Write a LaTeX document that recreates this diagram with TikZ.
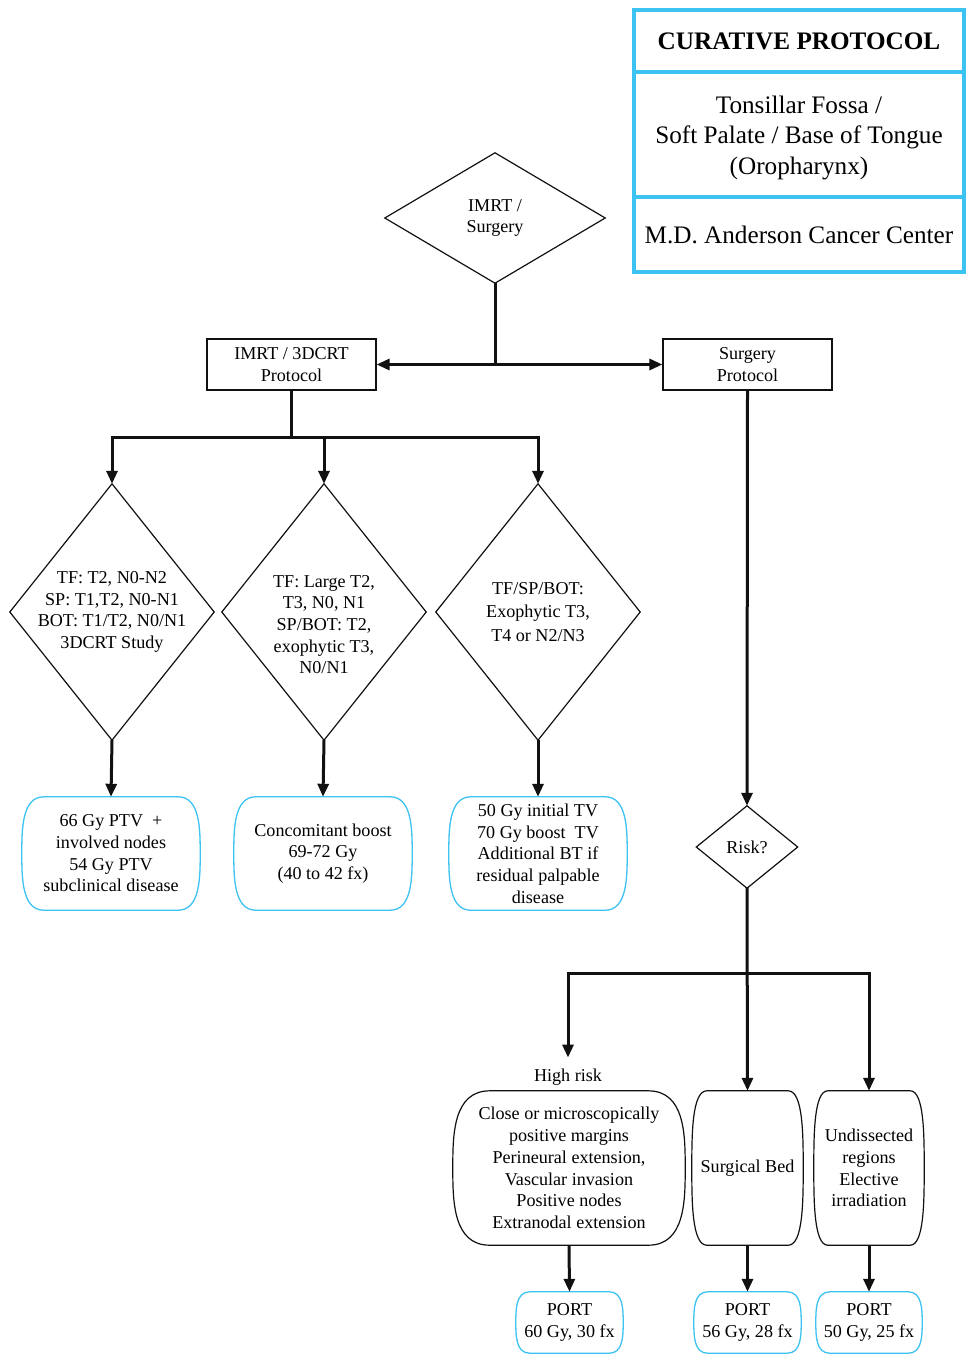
\documentclass[tikz,border=0pt]{standalone}
\usepackage{fontspec}
\setmainfont{Liberation Serif}
\usetikzlibrary{arrows.meta, positioning, calc}
\definecolor{Sky}{HTML}{3CC3F1}
\definecolor{Ink}{HTML}{111111}

\begin{document}
\begin{tikzpicture}[
  x=1pt, y=1pt,
  font=\fontsize{18.1}{21.7}\selectfont,
  stepbox/.style={
    draw=Ink,
    line width=1.2pt,
    align=center,
    inner sep=0pt,
    minimum width=169pt,
    minimum height=51pt
  },
  choice/.style={
    align=center,
    inner sep=0pt
  },
  dose/.style={
    align=center,
    inner sep=0pt
  },
  header/.style={
    draw=Sky,
    line width=4pt,
    align=center,
    inner sep=0pt,
    minimum width=330pt,
    font=\fontsize{25.2}{30.5}\selectfont
  },
  link/.style={
    line width=3pt,
    draw=Ink
  },
  arrow/.style={
    link,
    -{Triangle[length=13pt,width=11pt]}
  },
  rim/.style={draw=Ink, line width=1.2pt},
  skyrim/.style={draw=Sky, line width=1.3pt}
]

\fill[white] (0,0) rectangle (967,-1354);
\useasboundingbox (0,0) rectangle (967,-1354);

% header block
\node[header, minimum height=62pt] (title) at (799,-41)
  {\bfseries CURATIVE PROTOCOL};
\node[header, minimum height=125pt] (site) at (799,-134.5)
  {\rule{0pt}{24pt}Tonsillar Fossa /\\ Soft Palate / Base of Tongue\\(Oropharynx)};
\node[header, minimum height=75pt] (centre) at (799,-234.5)
  {M.D. Anderson Cancer Center};

% decision
\node[choice, minimum width=220pt, minimum height=130pt] (top) at (495,-218)
  {IMRT /\\Surgery};

\node[stepbox] (imrt) at (291.5,-364.5) {IMRT / 3DCRT\\Protocol};
\node[stepbox] (surg) at (747.5,-364.5) {Surgery\\Protocol};

% staging diamonds
\node[choice, minimum width=204pt, minimum height=256pt] (d1) at (112,-612)
  {TF: T2, N0-N2\\SP: T1,T2, N0-N1\\BOT: T1/T2, N0/N1\\3DCRT Study};
\node[choice, minimum width=204pt, minimum height=256pt] (d2) at (324,-612)
  {\rule{0pt}{37pt}TF: Large T2,\\T3, N0, N1\\SP/BOT: T2,\\exophytic T3,\\N0/N1};
\node[choice, minimum width=204pt, minimum height=256pt] (d3) at (538,-612)
  {TF/SP/BOT:\\[1.5pt]Exophytic T3,\\[1.5pt]T4 or N2/N3};

% doses
\node[dose, minimum width=178pt, minimum height=113pt] (b1) at (111,-853.5)
  {66 Gy PTV\ \ +\\involved nodes\\54 Gy PTV\\subclinical disease};
\node[dose, minimum width=178pt, minimum height=113pt] (b2) at (323,-853.5)
  {Concomitant boost\\69-72 Gy\\(40 to 42 fx)};
\node[dose, minimum width=178pt, minimum height=113pt] (b3) at (538,-853.5)
  {50 Gy initial TV\\70 Gy boost\ \ TV\\Additional BT if\\residual palpable\\disease};

% surgery branch
\node[choice, minimum width=101pt, minimum height=82pt] (risk) at (747,-847) {Risk?};

\node[choice, inner ysep=11pt] (hrlab) at (568,-1077) {High risk};
\node[dose, minimum width=232pt, minimum height=154pt] (hr) at (569,-1168)
  {Close or microscopically\\positive margins\\Perineural extension,\\Vascular invasion\\Positive nodes\\Extranodal extension};
\node[dose, minimum width=111pt, minimum height=154pt] (sb) at (747.5,-1168)
  {Surgical Bed};
\node[dose, minimum width=110pt, minimum height=154pt] (ud) at (869,-1168)
  {Undissected\\regions\\Elective\\irradiation};

\node[dose, minimum width=107pt, minimum height=61pt] (p1) at (569.5,-1322.5)
  {PORT\\60 Gy, 30 fx};
\node[dose, minimum width=107pt, minimum height=61pt] (p2) at (747.5,-1322.5)
  {PORT\\56 Gy, 28 fx};
\node[dose, minimum width=106pt, minimum height=61pt] (p3) at (869,-1322.5)
  {PORT\\50 Gy, 25 fx};

% outlines
\foreach \n in {top,d1,d2,d3,risk}{
  \draw[rim] (\n.north) -- (\n.east) -- (\n.south) -- (\n.west) -- cycle;
}
\foreach \n/\b/\h/\s in {b1/22/56.5/skyrim, b2/22/56.5/skyrim, b3/22/56.5/skyrim,
    p1/14/30.5/skyrim, p2/14/30.5/skyrim, p3/14/30.5/skyrim,
    hr/37/77/rim, sb/15/77/rim, ud/14/77/rim}{
  \draw[\s] (\n.west) .. controls +(0,0.42*\h) and +(-\b,0) .. ($(\n.north west)+(\b,0)$)
    -- ($(\n.north east)+(-\b,0)$) .. controls +(\b,0) and +(0,0.42*\h) .. (\n.east)
    .. controls +(0,-0.42*\h) and +(\b,0) .. ($(\n.south east)+(-\b,0)$)
    -- ($(\n.south west)+(\b,0)$) .. controls +(-\b,0) and +(0,-0.42*\h) .. (\n.west) -- cycle;
}

% connectors
\coordinate (j1) at (495,-364.5);
\draw[link] (top.south) -- (j1);
\draw[arrow] (j1) -- (imrt.east);
\draw[arrow] (j1) -- (surg.west);

\path (imrt.south) ++(0,-47) coordinate (j2);
\draw[arrow] (imrt.south) -- (j2) -| (d1.north);
\draw[arrow] (j2) -| (d3.north);
\draw[arrow] (j2 -| d2.north) -- (d2.north);

\draw[arrow] (d1.south) -- (b1.north);
\draw[arrow] (d2.south) -- (b2.north);
\draw[arrow] (d3.south) -- (b3.north);

\draw[arrow] (surg.south) -- (risk.north);
\path (risk.south) ++(0,-85) coordinate (j3);
\draw[arrow] (risk.south) -- (sb.north);
\draw[arrow] (j3) -| (hrlab.north);
\draw[arrow] (j3) -| (ud.north);

\draw[arrow] (hr.south) -- (p1.north);
\draw[arrow] (sb.south) -- (p2.north);
\draw[arrow] (ud.south) -- (p3.north);

\end{tikzpicture}
\end{document}
